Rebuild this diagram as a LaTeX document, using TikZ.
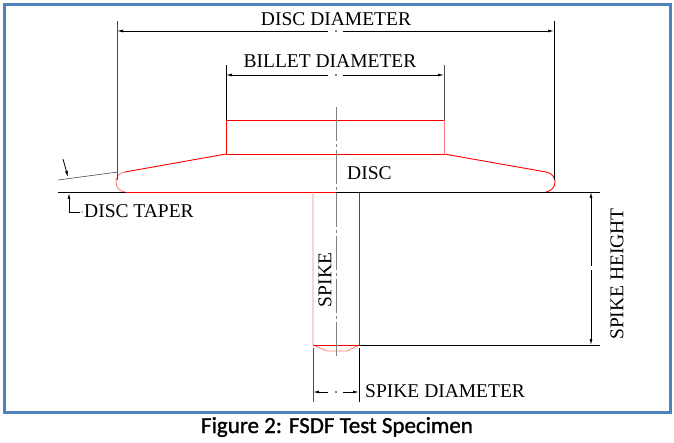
\documentclass[tikz,border=0pt]{standalone}
\usepackage{fontspec}
\setmainfont{Liberation Serif}
\newfontfamily\captionfont[FakeBold=1.2]{Carlito}
\usetikzlibrary{arrows.meta}

\tikzset{
  >={Latex[length=6pt,width=3pt]},
  frame/.style={line width=3pt},
  part/.style={red, line width=0.9pt},
  part light/.style={red!50, line width=0.9pt},
  ext line/.style={black!70, line width=0.6pt},
  dim line/.style={black, line width=0.8pt},
  axis line/.style={gray, line width=0.7pt, dash pattern=on 34pt off 3pt on 3pt off 3pt},
  dimtext/.style={font=\fontsize{19.5}{20}\selectfont, inner sep=0pt},
}

\begin{document}
\begin{tikzpicture}[x=1pt, y=-1pt]
    \useasboundingbox (0,0) rectangle (674,443);
    \draw[frame, draw={rgb,255:red,79;green,129;blue,189}] (4,5) rectangle (670,412);

    % outline points of the specimen
    \coordinate (billet-tl) at (226,120);
    \coordinate (billet-tr) at (444,120);
    \coordinate (billet-bl) at (226,154);
    \coordinate (billet-br) at (444,154);
    \coordinate (disc-lt) at (125,172);
    \coordinate (disc-lb) at (125,192);
    \coordinate (disc-rt) at (546,172);
    \coordinate (disc-rb) at (546,192);
    \coordinate (spike-tl) at (313,192);
    \coordinate (spike-tr) at (359,192);
    \coordinate (spike-bl) at (313,345);
    \coordinate (spike-br) at (359,345);

    % billet
    \draw[part] (billet-bl) -- (billet-tl) -- (billet-tr);
    \draw[part light] (billet-tr) -- (billet-br);
    \draw[part] (billet-br) -- (billet-bl);

    % disc
    \draw[part] (billet-bl) -- (disc-lt);
    \draw[part light] (disc-lt) .. controls (113,173) and (113,191) .. (disc-lb);
    \draw[part] (disc-lb) -- (336,192);
    \draw[part] (billet-br) -- (disc-rt) .. controls (558,174) and (558,190) .. (disc-rb);

    % spike
    \draw[part light] (spike-tl) -- (spike-bl) -- (327,351) -- (347,351) -- (spike-br);
    \draw[part] (spike-tr) -- (spike-br) -- (spike-bl);

    % centre line
    \draw[axis line] (336,107) -- (336,357);

    % disc diameter
    \draw[ext line] (117,21) -- (117,180);
    \draw[ext line, black] (554,21) -- (554,180);
    \draw[dim line, <-] (117,31) -- (328,31);
    \draw[dim line, ->] (343,31) -- (554,31);
    \fill (336,31) circle (0.8pt);
    \node[dimtext, anchor=base] (disc-dia) at (336,26) {DISC DIAMETER};

    % billet diameter
    \draw[ext line, black] (226,65) -- (billet-tl);
    \draw[ext line] (444,65) -- (billet-tr);
    \draw[dim line, <-] (226,75) -- (328,75);
    \draw[dim line, ->] (343,75) -- (444,75);
    \fill (336,75) circle (0.8pt);
    \node[dimtext, anchor=base] (billet-dia) at (330,68) {BILLET DIAMETER};

    \node[dimtext, anchor=base west] (disc-name) at (347,180) {DISC};
    \node[dimtext, rotate=90] (spike-name) at (325,280) {SPIKE};

    % spike height
    \draw[dim line, black, line width=0.7pt] (336,192) -- (600,192);
    \draw[dim line, black, line width=0.7pt] (spike-br) -- (600,345);
    \draw[dim line, <-] (591,192) -- (591,266);
    \draw[dim line, ->] (591,270) -- (591,345);
    \node[dimtext, rotate=90] (spike-hgt) at (617,274) {SPIKE HEIGHT};

    % spike diameter
    \draw[ext line] (313,348) -- (313,402);
    \draw[ext line, black] (359,348) -- (359,402);
    \draw[dim line, <-] (313,392) -- (328,392);
    \draw[dim line, ->] (343,392) -- (359,392);
    \fill (336,392) circle (0.8pt);
    \node[dimtext, anchor=base west] (spike-dia) at (365,397) {SPIKE DIAMETER};

    % disc taper
    \draw[ext line] (58,180) -- (118,172);
    \draw[ext line, black] (58,192) -- (disc-lb);
    \draw[dim line, ->] (63,159) -- (68,177);
    \draw[dim line, ->] (69,212) -- (69,193);
    \draw[dim line] (69,212) -- (80,212);
    \fill (82,212) circle (0.6pt);
    \node[dimtext, anchor=base west] (disc-tap) at (84,218) {DISC TAPER};

    \node[font=\captionfont\fontsize{23}{24}\selectfont, anchor=base] (caption) at (337,433) {Figure 2: FSDF Test Specimen};
\end{tikzpicture}
\end{document}
